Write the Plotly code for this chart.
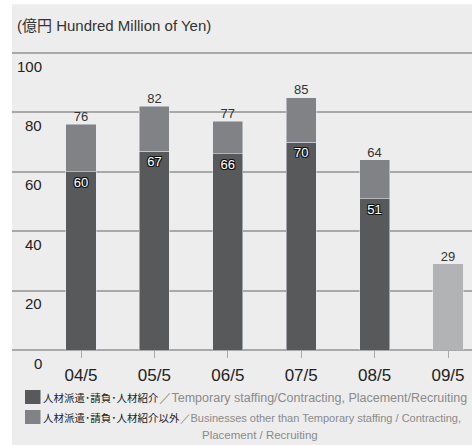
import plotly.graph_objects as go

# data (億円)
years = ["04/5", "05/5", "06/5", "07/5", "08/5", "09/5"]
staffing = [60, 67, 66, 70, 51, None]
totals = [76, 82, 77, 85, 64, None]
forecast = [None, None, None, None, None, 29]
y_ticks = [0, 20, 40, 60, 80, 100]

other = [t - s if t is not None else None for t, s in zip(totals, staffing)]
top_labels = [t if t is not None else f for t, f in zip(totals, forecast)]

DARK = "#58595b"
MID = "#808285"
LIGHT = "#b2b3b5"
BG = "#ededed"
GRID = "#a9a9a9"
SANS = "Liberation Sans, Arial, sans-serif"
NARROW = "Liberation Sans Narrow, Arial Narrow, Liberation Sans, sans-serif"
CJK = "Noto Sans CJK JP, sans-serif"

fig = go.Figure()

fig.add_bar(
    x=years, y=staffing, marker_color=DARK, width=0.41,
    text=[str(v) if v is not None else "" for v in staffing],
    textposition="inside", insidetextanchor="end", textangle=0,
    textfont=dict(family=NARROW, size=13, color="white",
                  shadow="1px 1px 0 #111, -1px -1px 0 #111, 1px -1px 0 #111, -1px 1px 0 #111"),
    showlegend=False,
)
fig.add_bar(x=years, y=other, marker_color=MID, width=0.41, showlegend=False)
fig.add_bar(x=years, y=forecast, marker_color=LIGHT, width=0.41, showlegend=False)

# totals above the bars
fig.add_scatter(
    x=years, y=top_labels, mode="text",
    text=[str(v) for v in top_labels], textposition="top center",
    textfont=dict(family=NARROW, size=13, color="#333333"),
    showlegend=False, hoverinfo="skip",
)

# y tick labels sit just under each gridline
for v in y_ticks:
    fig.add_annotation(
        x=0.0696, xref="paper", y=v, yref="y", text=str(v),
        showarrow=False, xanchor="right", yanchor="middle", yshift=-13,
        font=dict(family=SANS, size=15, color="#222222"),
    )

# grey backdrop (white strip left & top)
fig.add_shape(type="rect", xref="paper", yref="paper",
              x0=0, x1=1, y0=-0.33, y1=1.16,
              fillcolor=BG, line_width=0, layer="below")

fig.add_annotation(
    x=0.006, xref="paper", y=1.09, yref="paper", text="(億円 Hundred Million of Yen)",
    showarrow=False, xanchor="left", yanchor="middle",
    font=dict(family=SANS + ", " + CJK, size=15, color="#333333"),
)

# legend
fig.add_shape(type="rect", xref="paper", yref="paper",
              x0=13 / 460, x1=28.5 / 460, y0=-54 / 298, y1=-40 / 298,
              fillcolor=DARK, line_width=0)
fig.add_shape(type="rect", xref="paper", yref="paper",
              x0=13 / 460, x1=28.5 / 460, y0=-74 / 298, y1=-60 / 298,
              fillcolor=MID, line_width=0)

leg1 = ("<span style='font-family:Noto Sans CJK JP;font-size:10.5px;color:#222'>人材派遣･請負･人材紹介</span>"
        "<span style='color:#8a8a8a'>／Temporary staffing/Contracting, Placement/Recruiting</span>")
leg2 = ("<span style='font-family:Noto Sans CJK JP;font-size:10.5px;color:#222'>人材派遣･請負･人材紹介以外</span>"
        "<span style='color:#8a8a8a'>／Businesses other than Temporary staffing / Contracting,</span>")
fig.add_annotation(x=29 / 460, xref="paper", y=-47 / 298, yref="paper", text=leg1,
                   showarrow=False, xanchor="left", yanchor="middle",
                   font=dict(family=NARROW, size=12.5, color="#8a8a8a"))
fig.add_annotation(x=29 / 460, xref="paper", y=-67 / 298, yref="paper", text=leg2,
                   showarrow=False, xanchor="left", yanchor="middle",
                   font=dict(family=NARROW, size=11, color="#8a8a8a"))
fig.add_annotation(x=248 / 460, xref="paper", y=-85 / 298, yref="paper",
                   text="Placement / Recruiting",
                   showarrow=False, xanchor="center", yanchor="middle",
                   font=dict(family=NARROW, size=11.5, color="#8a8a8a"))

fig.update_layout(
    width=472, height=445,
    margin=dict(l=12, r=0, t=52, b=95),
    barmode="stack",
    paper_bgcolor="white",
    plot_bgcolor="rgba(0,0,0,0)",
    xaxis=dict(
        range=[-0.94, 5.327], showgrid=False,
        showline=False, ticks="outside", ticklen=7, tickcolor=GRID, tickwidth=1,
        ticklabelstandoff=3,
        tickfont=dict(family=SANS, size=17, color="#222222"),
    ),
    yaxis=dict(
        range=[0, 100.34], tickvals=y_ticks, showticklabels=False,
        showgrid=True, gridcolor=GRID, gridwidth=1.5,
        zeroline=True, zerolinecolor=GRID, zerolinewidth=1.5,
    ),
)

fig.write_html("out.html", config={"displayModeBar": False},
               post_script="document.body.style.margin='0';")
